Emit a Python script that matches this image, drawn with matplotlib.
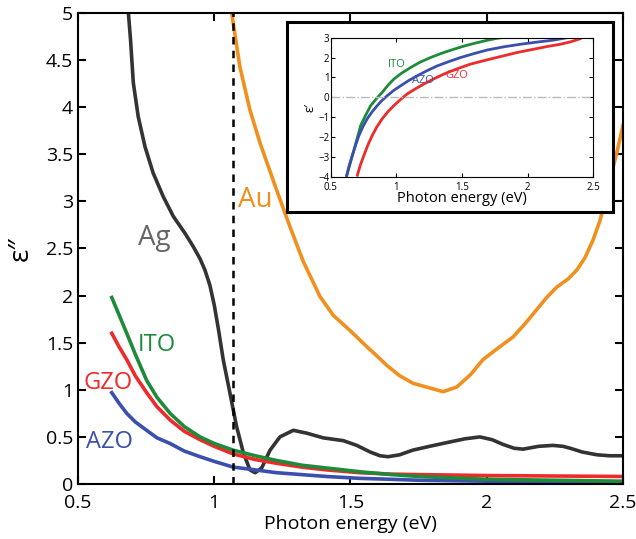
import numpy as np
import matplotlib
matplotlib.use('Agg')
import matplotlib.pyplot as plt

plt.rcParams['font.family'] = ['Open Sans', 'DejaVu Sans']

# main panel: imaginary part eps''
ag_x = [0.685, 0.693, 0.703, 0.721, 0.746, 0.776, 0.813, 0.850, 0.893, 0.923, 0.948, 0.966,
        0.984, 1.000, 1.015, 1.033, 1.058, 1.082, 1.107, 1.131, 1.150, 1.174, 1.205, 1.241, 1.290,
        1.339, 1.400, 1.474, 1.523, 1.572, 1.608, 1.638, 1.680, 1.729, 1.790, 1.854, 1.920,
        1.975, 2.020, 2.060, 2.100, 2.133, 2.190, 2.243, 2.280, 2.306, 2.350, 2.405, 2.450, 2.500]
ag_y = [5.00, 4.71, 4.26, 3.90, 3.58, 3.30, 3.05, 2.84, 2.66, 2.52, 2.39, 2.27,
        2.11, 1.90, 1.65, 1.32, 0.96, 0.61, 0.33, 0.15, 0.12, 0.17, 0.36, 0.50, 0.57,
        0.54, 0.49, 0.46, 0.41, 0.34, 0.30, 0.29, 0.31, 0.36, 0.40, 0.44, 0.48,
        0.50, 0.47, 0.42, 0.38, 0.37, 0.40, 0.41, 0.40, 0.38, 0.34, 0.31, 0.30, 0.30]

au_x = [1.064, 1.094, 1.131, 1.168, 1.229, 1.278, 1.327, 1.388, 1.437, 1.498, 1.559, 1.608,
        1.633, 1.680, 1.729, 1.790, 1.840, 1.890, 1.940, 1.986, 2.040, 2.096, 2.140, 2.183,
        2.220, 2.257, 2.300, 2.330, 2.360, 2.390, 2.416, 2.452, 2.480, 2.500]
au_y = [5.00, 4.43, 3.97, 3.62, 3.12, 2.73, 2.36, 1.99, 1.79, 1.63, 1.46, 1.33,
        1.26, 1.15, 1.07, 1.02, 0.98, 1.03, 1.16, 1.32, 1.44, 1.56, 1.70, 1.85,
        1.98, 2.09, 2.18, 2.27, 2.40, 2.59, 2.80, 3.23, 3.55, 3.81]

tco_x = [0.624, 0.650, 0.679, 0.710, 0.752, 0.790, 0.838, 0.890, 0.948, 1.000, 1.069,
         1.150, 1.229, 1.320, 1.412, 1.535, 1.650, 1.750, 1.875, 2.000, 2.250, 2.500]
ito_y = [1.98, 1.80, 1.60, 1.38, 1.10, 0.92, 0.75, 0.61, 0.50, 0.43, 0.36,
         0.30, 0.25, 0.20, 0.17, 0.13, 0.10, 0.08, 0.065, 0.05, 0.04, 0.03]
gzo_y = [1.60, 1.46, 1.32, 1.15, 0.97, 0.82, 0.68, 0.56, 0.47, 0.40, 0.32,
         0.26, 0.22, 0.18, 0.15, 0.12, 0.105, 0.10, 0.095, 0.09, 0.085, 0.08]
azo_y = [0.97, 0.86, 0.75, 0.66, 0.57, 0.49, 0.43, 0.35, 0.29, 0.24, 0.18,
         0.15, 0.12, 0.10, 0.08, 0.06, 0.05, 0.04, 0.035, 0.03, 0.025, 0.02]

# inset: real part eps'
ito_re_x = [0.622, 0.665, 0.700, 0.728, 0.766, 0.804, 0.850, 0.892, 0.935, 0.981, 1.040,
            1.108, 1.180, 1.259, 1.345, 1.437, 1.525, 1.614, 1.690, 1.766, 1.800]
ito_re_y = [-3.95, -2.92, -2.10, -1.42, -0.90, -0.42, -0.05, 0.25, 0.60, 0.92, 1.22,
            1.50, 1.77, 2.00, 2.22, 2.42, 2.60, 2.75, 2.87, 2.97, 3.00]
azo_re_x = [0.622, 0.640, 0.665, 0.690, 0.715, 0.745, 0.778, 0.815, 0.854, 0.890, 0.930,
            0.980, 1.032, 1.095, 1.158, 1.230, 1.310, 1.400, 1.487, 1.590, 1.690, 1.815,
            1.943, 2.070, 2.196, 2.300]
azo_re_y = [-3.92, -3.45, -2.92, -2.40, -1.92, -1.48, -1.08, -0.73, -0.42, -0.16, 0.08,
            0.35, 0.58, 0.85, 1.08, 1.33, 1.58, 1.80, 2.00, 2.20, 2.38, 2.54,
            2.67, 2.78, 2.88, 3.00]
gzo_re_x = [0.703, 0.726, 0.753, 0.783, 0.816, 0.852, 0.892, 0.935, 0.981, 1.030, 1.082,
            1.145, 1.209, 1.285, 1.361, 1.460, 1.563, 1.680, 1.791, 1.915, 2.044, 2.150,
            2.247, 2.330, 2.399]
gzo_re_y = [-3.92, -3.40, -2.92, -2.40, -1.92, -1.48, -1.08, -0.73, -0.42, -0.12, 0.17,
            0.43, 0.67, 0.93, 1.17, 1.43, 1.67, 1.87, 2.05, 2.25, 2.42, 2.56,
            2.67, 2.80, 2.95]

c_ag = '#333333'
c_au = '#F0901E'
c_ito = '#1E8B3A'
c_gzo = '#EE2A2A'
c_azo = '#3B4FAD'

fig = plt.figure(figsize=(6.36, 5.39), dpi=100)
ax = fig.add_axes([0.1226, 0.102, 0.857, 0.874])

lw = 2.6
ax.plot(ag_x, ag_y, color=c_ag, lw=lw, solid_joinstyle='round')
ax.plot(au_x, au_y, color=c_au, lw=lw, solid_joinstyle='round')
ax.plot(tco_x, azo_y, color=c_azo, lw=lw, solid_joinstyle='round')
ax.plot(tco_x, gzo_y, color=c_gzo, lw=lw, solid_joinstyle='round')
ax.plot(tco_x, ito_y, color=c_ito, lw=lw, solid_joinstyle='round')
ax.axvline(1.07, color='black', ls='--', lw=1.8, dashes=(3, 2.5))

ax.text(0.779, 2.61, 'Ag', color='#666666', fontsize=20, ha='center', va='center')
ax.text(1.15, 3.01, 'Au', color=c_au, fontsize=20, ha='center', va='center')
ax.text(0.79, 1.48, 'ITO', color=c_ito, fontsize=17, ha='center', va='center')
ax.text(0.52, 1.07, 'GZO', color=c_gzo, fontsize=17, ha='left', va='center')
ax.text(0.53, 0.45, 'AZO', color=c_azo, fontsize=17, ha='left', va='center')

ax.set_xlim(0.5, 2.5)
ax.set_ylim(0, 5)
ax.set_xticks([0.5, 1, 1.5, 2, 2.5])
ax.set_xticklabels(['0.5', '1', '1.5', '2', '2.5'])
ax.set_yticks(np.arange(0, 5.01, 0.5))
ax.set_yticklabels(['0', '0.5', '1', '1.5', '2', '2.5', '3', '3.5', '4', '4.5', '5'])
ax.tick_params(direction='in', top=True, right=True, length=6, width=1.5, labelsize=14)
ax.tick_params(axis='x', pad=7)
for s in ax.spines.values():
    s.set_linewidth(1.5)
ax.set_xlabel('Photon energy (eV)', fontsize=14, labelpad=2)
ax.set_ylabel('\u03b5\u2033', fontsize=20, labelpad=8)

# inset frame
frame = fig.add_axes([0.451, 0.6067, 0.5126, 0.3525], zorder=5)
frame.set_xticks([])
frame.set_yticks([])
for s in frame.spines.values():
    s.set_linewidth(2.2)

ins = fig.add_axes([0.520, 0.672, 0.413, 0.258], zorder=6)
ins.plot(ito_re_x, ito_re_y, color=c_ito, lw=2)
ins.plot(gzo_re_x, gzo_re_y, color=c_gzo, lw=2)
ins.plot(azo_re_x, azo_re_y, color=c_azo, lw=2)
ins.axhline(0, color='#BBBBBB', lw=1, ls='-.')
ins.text(1.0, 1.67, 'ITO', color=c_ito, fontsize=8, ha='center', va='center')
ins.text(1.2, 0.83, 'AZO', color=c_azo, fontsize=8, ha='center', va='center')
ins.text(1.46, 1.08, 'GZO', color=c_gzo, fontsize=8, ha='center', va='center')
ins.set_xlim(0.5, 2.5)
ins.set_ylim(-4, 3)
ins.set_xticks([0.5, 1, 1.5, 2, 2.5])
ins.set_xticklabels(['0.5', '1', '1.5', '2', '2.5'])
ins.set_yticks(range(-4, 4))
ins.tick_params(direction='in', top=True, right=True, length=3, width=0.8, labelsize=7, pad=1)
ins.tick_params(axis='x', pad=3.5)
ins.set_xlabel('Photon energy (eV)', fontsize=10.5, labelpad=-1)
ins.set_ylabel('\u03b5\u2032', fontsize=9, labelpad=1)

fig.savefig('out.png', dpi=100)
